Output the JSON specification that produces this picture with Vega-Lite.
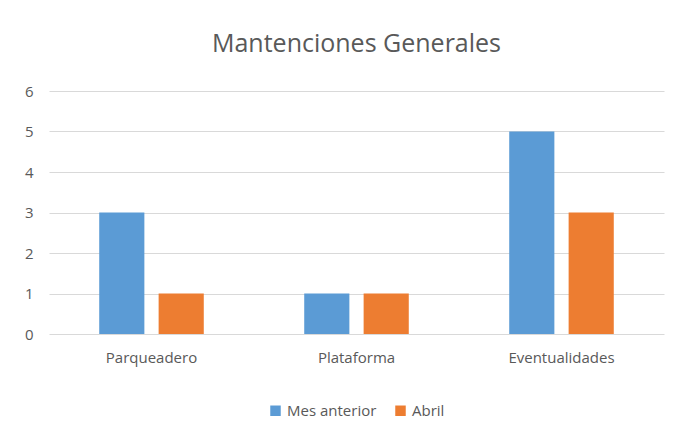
{
  "$schema": "https://vega.github.io/schema/vega-lite/v6.json",
  "width": 615,
  "height": 243,
  "autosize": {"type": "none"},
  "padding": {"left": 49, "top": 91, "right": 21, "bottom": 107},
  "background": "white",
  "title": {"text": "Mantenciones Generales", "fontSize": 25, "font": "Open Sans", "fontWeight": "normal", "color": "#595959", "anchor": "middle", "offset": 27},
  "data": {"values": [
    {"categoria": "Parqueadero", "serie": "Mes anterior", "valor": 3},
    {"categoria": "Parqueadero", "serie": "Abril", "valor": 1},
    {"categoria": "Plataforma", "serie": "Mes anterior", "valor": 1},
    {"categoria": "Plataforma", "serie": "Abril", "valor": 1},
    {"categoria": "Eventualidades", "serie": "Mes anterior", "valor": 5},
    {"categoria": "Eventualidades", "serie": "Abril", "valor": 3}
  ]},
  "mark": {"type": "bar"},
  "encoding": {
    "x": {"field": "categoria", "type": "nominal", "sort": ["Parqueadero", "Plataforma", "Eventualidades"],
          "scale": {"paddingInner": 0.49, "paddingOuter": 0.245},
          "axis": {"title": null, "labelAngle": 0, "ticks": false, "domain": false, "labelPadding": 16, "labelFontSize": 15, "labelColor": "#595959", "labelFont": "Open Sans"}},
    "xOffset": {"field": "serie", "type": "nominal", "sort": ["Mes anterior", "Abril"], "scale": {"paddingInner": 0.24, "paddingOuter": 0}},
    "y": {"field": "valor", "type": "quantitative", "scale": {"domain": [0, 6], "nice": false},
          "axis": {"title": null, "values": [0, 1, 2, 3, 4, 5, 6], "ticks": false, "domain": false, "gridColor": "#d9d9d9", "labelPadding": 16, "labelFontSize": 15, "labelColor": "#595959", "labelFont": "Open Sans"}},
    "color": {"field": "serie", "type": "nominal", "sort": ["Mes anterior", "Abril"],
              "scale": {"domain": ["Mes anterior", "Abril"], "range": ["#5B9BD5", "#ED7D31"]},
              "legend": {"title": null, "orient": "bottom", "direction": "horizontal", "symbolType": "square", "symbolSize": 110, "labelFontSize": 15, "labelColor": "#595959", "labelFont": "Open Sans", "offset": 38, "columnPadding": 16, "symbolStrokeWidth": 0}}
  },
  "config": {"view": {"stroke": null}, "legend": {"layout": {"bottom": {"anchor": "middle"}}}}
}
